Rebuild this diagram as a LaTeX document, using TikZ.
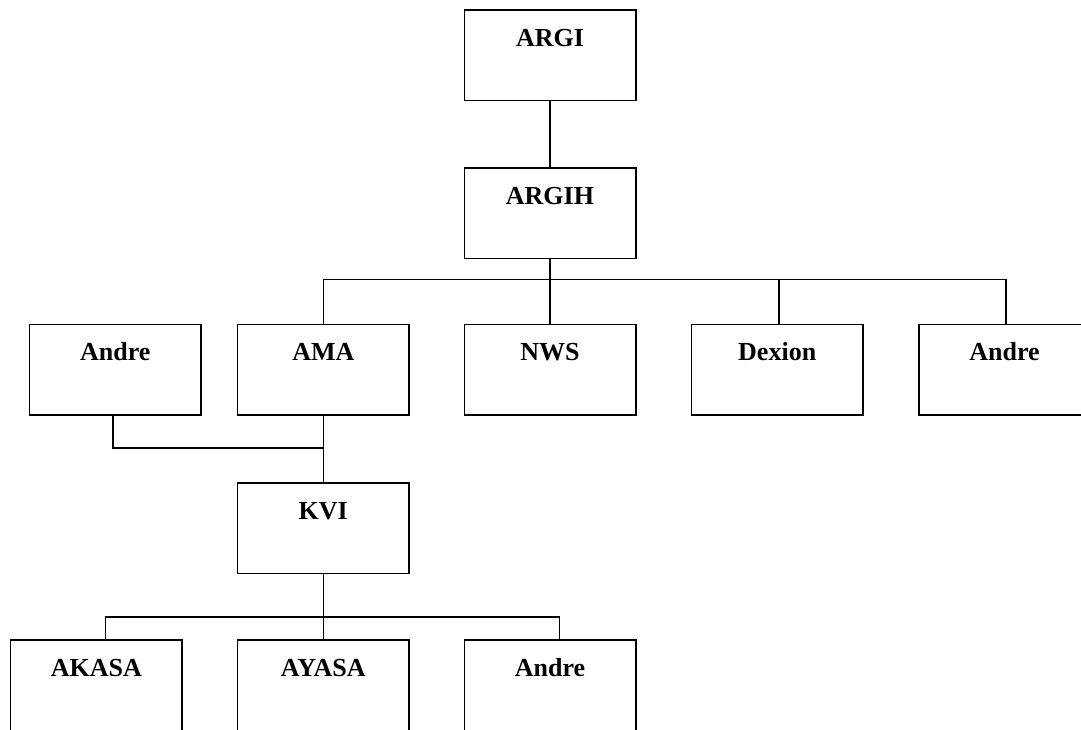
\documentclass[tikz,border=0pt]{standalone}
\usepackage{fontspec}
\setmainfont{Liberation Serif}
\usetikzlibrary{calc}
\begin{document}
\begin{tikzpicture}[x=1pt,y=-1pt,
  orgbox/.style={draw,line width=1.6pt,anchor=north,minimum width=171.4pt,
    inner xsep=0pt,inner ysep=0pt,text height=36.6pt,text depth=53.9pt,
    font=\fontsize{26}{30}\selectfont\bfseries},
  conn/.style={line width=1.6pt}]
\useasboundingbox (0,0) rectangle (1081,729);
\clip (0,0) rectangle (1081,729);
\fill[white] (0,0) rectangle (1081,729);
% level 0-1
\node[orgbox] (argi) at (550,9) {ARGI};
\node[orgbox] (argih) at (550,167) {ARGIH};
% level 2
\node[orgbox] (andreL) at (115.3,323.5) {Andre};
\node[orgbox] (ama) at (323.3,323.5) {AMA};
\node[orgbox] (nws) at (550,323.5) {NWS};
\node[orgbox] (dexion) at (777.2,323.5) {Dexion};
\node[orgbox] (andreR) at (1004.5,323.5) {Andre};
% KVI
\node[orgbox] (kvi) at (323.3,482) {KVI};
% level 4
\node[orgbox] (akasa) at (96.3,639) {AKASA};
\node[orgbox] (ayasa) at (323.3,639) {AYASA};
\node[orgbox] (andreB) at (550,639) {Andre};
% connectors
\coordinate (bus1) at (550,279.5);
\coordinate (join) at (323.3,447.7);
\coordinate (bus2) at (323.3,616.7);
\draw[conn] (argi.south) -- (argih.north);
\draw[conn] (argih.south) -- (bus1);
\draw[conn] (ama.north) |- (bus1);
\draw[conn] (nws.north) -- (bus1);
\draw[conn] ([xshift=1.8pt]dexion.north) |- (bus1);
\draw[conn] ([xshift=1.5pt]andreR.north) |- (bus1);
\draw[conn] (ama.south) -- (kvi.north);
\draw[conn] ([xshift=-2.3pt]andreL.south) |- (join);
\draw[conn] (kvi.south) -- (ayasa.north);
\draw[conn] ([xshift=9pt]akasa.north) |- (bus2);
\draw[conn] ([xshift=9.3pt]andreB.north) |- (bus2);
\end{tikzpicture}
\end{document}
